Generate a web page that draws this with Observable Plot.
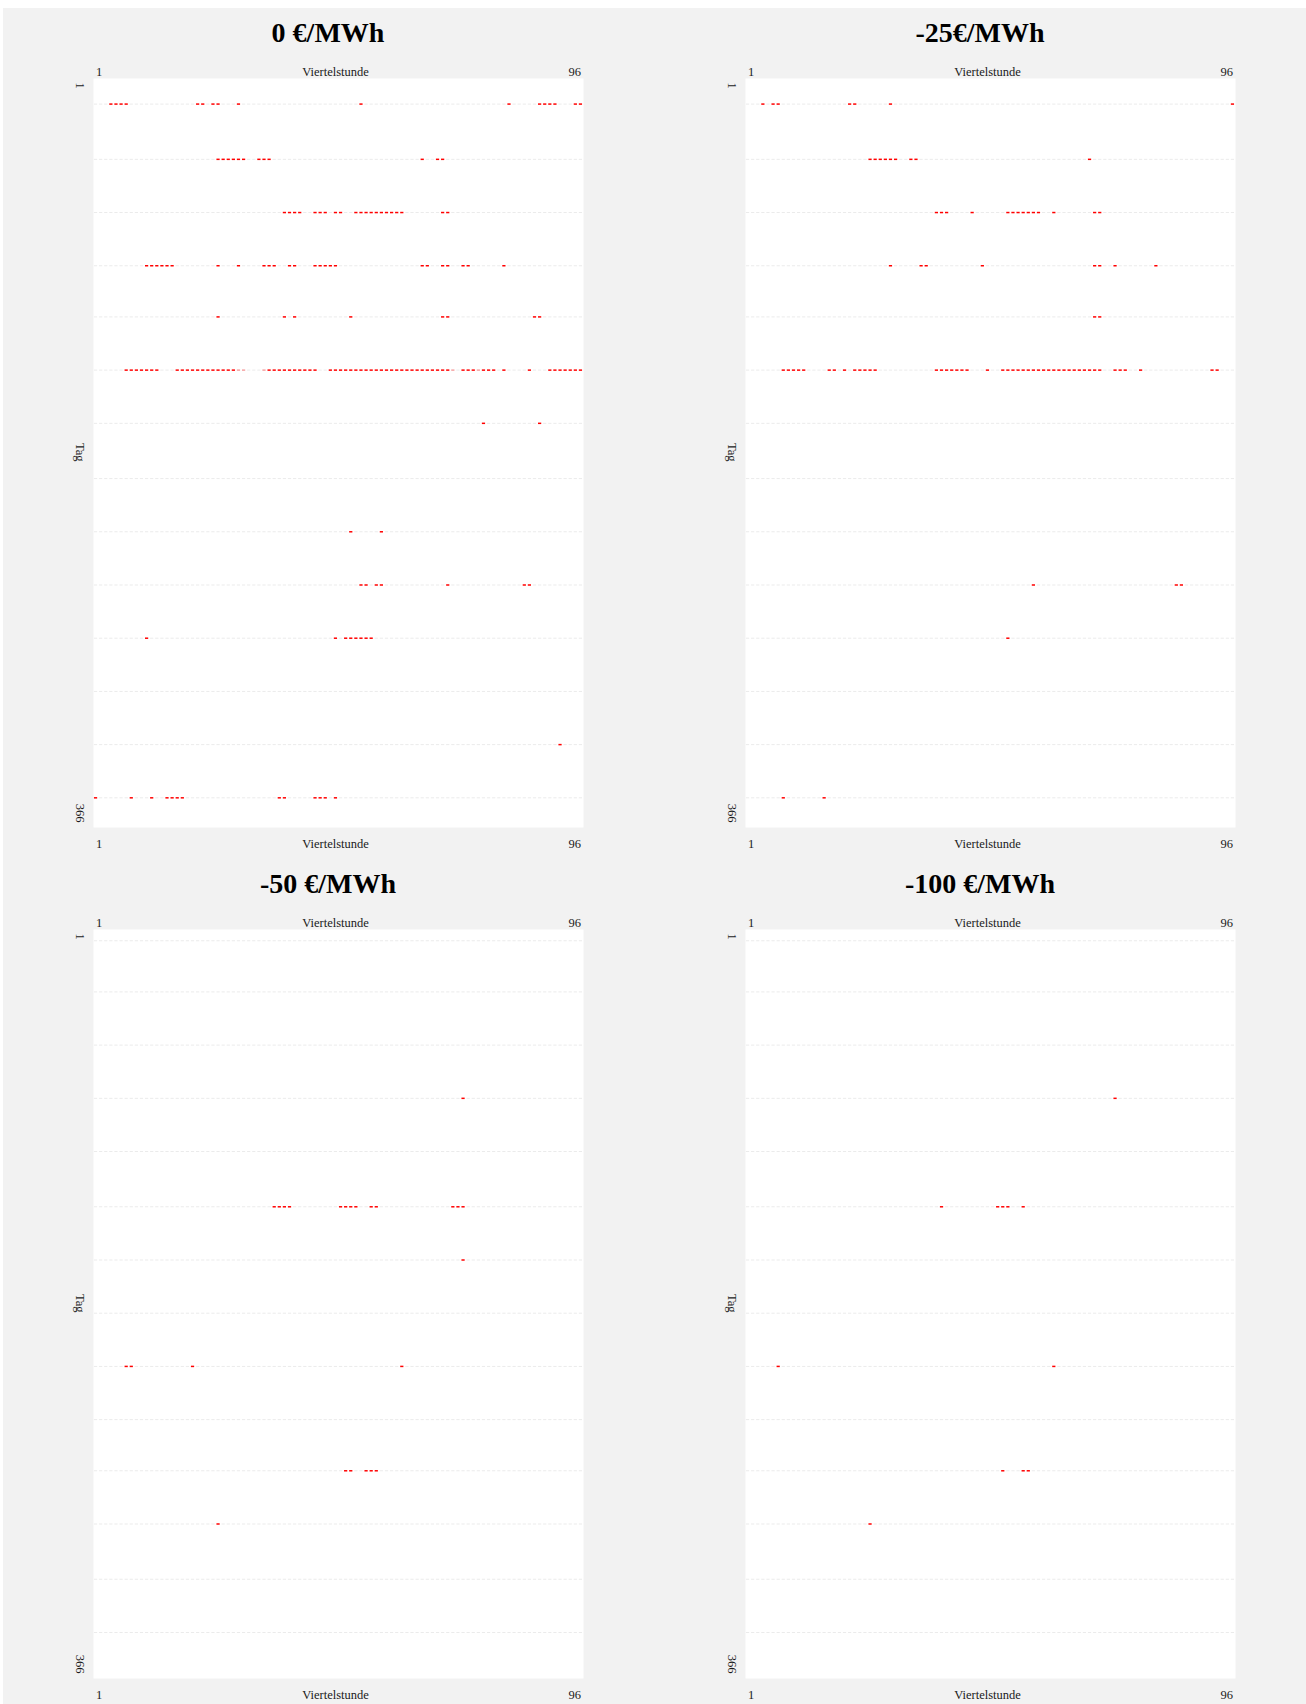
<!DOCTYPE html>
<html>
<head>
<meta charset="utf-8">
<script src="https://cdn.jsdelivr.net/npm/d3@7"></script>
<script src="https://cdn.jsdelivr.net/npm/@observablehq/plot@0.6"></script>
<style>
  html, body { margin: 0; padding: 0; background: #ffffff; }
  #board {
    position: absolute; left: 3px; top: 8px; width: 1303px; height: 1696px;
    background: #f2f2f2; overflow: hidden;
  }
  .panel { position: absolute; width: 650px; }
  .panel h2 {
    position: absolute; left: 0; top: 8px; width: 650px; margin: 0;
    text-align: center; font: bold 28px/34px "Liberation Serif", serif; color: #000;
  }
  .panel svg { position: absolute; left: 0; top: 42px; }
</style>
</head>
<body>
<div id="board"></div>
<script>
// Price thresholds shown in the four panels
const titles = ["0 €/MWh", "-25€/MWh", "-50 €/MWh", "-100 €/MWh"];

// Quarter hours of the day (x categories)
const quarterHours = d3.range(1, 97);
// Sampled days (rows) for the upper and the lower pair of panels
const rowDaysUpper = [13, 40, 66, 92, 117, 143, 169, 196, 222, 248, 274, 300, 326, 352];
const rowDaysLower = [6, 31, 57, 83, 109, 136, 162, 188, 214, 240, 265, 291, 318, 344];

// Axis tick labels
const xTickLabels = [1, 96];
const yTickLabels = [1, 366];

// Quarter hours at or below the threshold, one list per row
const hitsZero = [
  [4, 5, 6, 7, 21, 22, 24, 25, 29, 53, 82, 88, 89, 90, 91, 95, 96],
  [25, 26, 27, 28, 29, 30, 33, 34, 35, 65, 68, 69],
  [38, 39, 40, 41, 44, 45, 46, 48, 49, 52, 53, 54, 55, 56, 57, 58, 59, 60, 61, 69, 70],
  [11, 12, 13, 14, 15, 16, 25, 29, 34, 35, 36, 39, 40, 44, 45, 46, 47, 48, 65, 66, 69, 70, 73, 74, 81],
  [25, 38, 40, 51, 69, 70, 87, 88],
  [7, 8, 9, 10, 11, 12, 13, 17, 18, 19, 20, 21, 22, 23, 24, 25, 26, 27, 28, 35, 36, 37, 38, 39, 40, 41, 42, 43, 44,
   47, 48, 49, 50, 51, 52, 53, 54, 55, 56, 57, 58, 59, 60, 61, 62, 63, 64, 65, 66, 67, 68, 69, 70,
   73, 74, 75, 77, 78, 79, 81, 86, 90, 91, 92, 93, 94, 95, 96],
  [77, 88],
  [],
  [51, 57],
  [53, 54, 56, 57, 70, 85, 86],
  [11, 48, 50, 51, 52, 53, 54, 55],
  [],
  [92],
  [1, 8, 12, 15, 16, 17, 18, 37, 38, 44, 45, 46, 48]
];
// Quarter hours only just at the threshold (lighter tint)
const nearZero = [[], [], [], [], [], [29, 30, 34, 71, 76], [], [], [], [], [], [], [], []];

const hitsMinus25 = [
  [4, 6, 7, 21, 22, 29, 96],
  [25, 26, 27, 28, 29, 30, 33, 34, 68],
  [38, 39, 40, 45, 52, 53, 54, 55, 56, 57, 58, 61, 69, 70],
  [29, 35, 36, 47, 69, 70, 73, 81],
  [69, 70],
  [8, 9, 10, 11, 12, 17, 18, 20, 22, 23, 24, 25, 26, 38, 39, 40, 41, 42, 43, 44, 48,
   51, 52, 53, 54, 55, 56, 57, 58, 59, 60, 61, 62, 63, 64, 65, 66, 67, 68, 69, 70, 73, 74, 75, 78, 92, 93],
  [],
  [],
  [],
  [57, 85, 86],
  [52],
  [],
  [],
  [8, 16]
];

const hitsMinus50 = [
  [], [], [],
  [73],
  [],
  [36, 37, 38, 39, 49, 50, 51, 52, 55, 56, 71, 72, 73],
  [73],
  [],
  [7, 8, 20, 61],
  [],
  [50, 51, 54, 55, 56],
  [25],
  [], []
];

const hitsMinus100 = [
  [], [], [],
  [73],
  [],
  [39, 50, 51, 52, 55],
  [],
  [],
  [7, 61],
  [],
  [51, 55, 56],
  [25],
  [], []
];

const panels = [
  {title: titles[0], days: rowDaysUpper, hits: hitsZero, near: nearZero},
  {title: titles[1], days: rowDaysUpper, hits: hitsMinus25, near: []},
  {title: titles[2], days: rowDaysLower, hits: hitsMinus50, near: []},
  {title: titles[3], days: rowDaysLower, hits: hitsMinus100, near: []}
];

const labelFont = {fontFamily: "Liberation Serif, serif", fontSize: 12.5, fill: "#1a1a1a", lineAnchor: "middle"};

function buildCells(panel) {
  const cells = [];
  panel.days.forEach((day, i) => {
    const hit = new Set(panel.hits[i] || []);
    const near = new Set(panel.near[i] || []);
    for (const q of quarterHours) {
      cells.push({day, q, state: near.has(q) ? "near" : hit.has(q) ? "hit" : "none"});
    }
  });
  return cells;
}

function drawPanel(panel) {
  const cells = buildCells(panel);
  return Plot.plot({
    width: 650,
    height: 807,
    marginLeft: 90,
    marginRight: 70,
    marginTop: 28,
    marginBottom: 30,
    style: {background: "transparent", overflow: "visible"},
    x: {type: "band", domain: quarterHours, paddingInner: 0.37, paddingOuter: 0.185, round: false, axis: null},
    y: {domain: [0.5, 366.5], reverse: true, axis: null},
    marks: [
      Plot.frame({fill: "white", stroke: "none"}),
      Plot.tickY(cells.filter(d => d.state === "none"), {x: "q", y: "day", stroke: "#ebebeb", strokeWidth: 1}),
      Plot.tickY(cells.filter(d => d.state === "near"), {x: "q", y: "day", stroke: "#f5a3a3", strokeWidth: 1.5}),
      Plot.tickY(cells.filter(d => d.state === "hit"), {x: "q", y: "day", stroke: "#ff0000", strokeWidth: 1.5}),
      // quarter-hour labels above and below the grid
      ...["top", "bottom"].flatMap(side => {
        const dy = side === "top" ? -6.5 : 16;
        return [
          Plot.text([xTickLabels[0]], {x: d => d, text: d => String(d), frameAnchor: side, dy, textAnchor: "start", ...labelFont}),
          Plot.text([xTickLabels[1]], {x: d => d, text: d => String(d), frameAnchor: side, dy, textAnchor: "end", ...labelFont}),
          Plot.text(["Viertelstunde"], {frameAnchor: side, dx: -3, dy, ...labelFont})
        ];
      }),
      // day labels on the left, running downwards
      Plot.text([yTickLabels[0]], {y: d => d, text: d => String(d), frameAnchor: "left", dx: -14, dy: 3, rotate: 90, textAnchor: "start", ...labelFont}),
      Plot.text([yTickLabels[1]], {y: d => d, text: d => String(d), frameAnchor: "left", dx: -14, dy: -4, rotate: 90, textAnchor: "end", ...labelFont}),
      Plot.text(["Tag"], {frameAnchor: "left", dx: -14, dy: -10, rotate: 90, ...labelFont})
    ]
  });
}

const board = document.getElementById("board");
panels.forEach((panel, i) => {
  const div = document.createElement("div");
  div.className = "panel";
  div.style.left = (i % 2) * 652 + "px";
  div.style.top = Math.floor(i / 2) * 851 + "px";
  const h = document.createElement("h2");
  h.textContent = panel.title;
  div.appendChild(h);
  div.appendChild(drawPanel(panel));
  board.appendChild(div);
});
</script>
</body>
</html>
